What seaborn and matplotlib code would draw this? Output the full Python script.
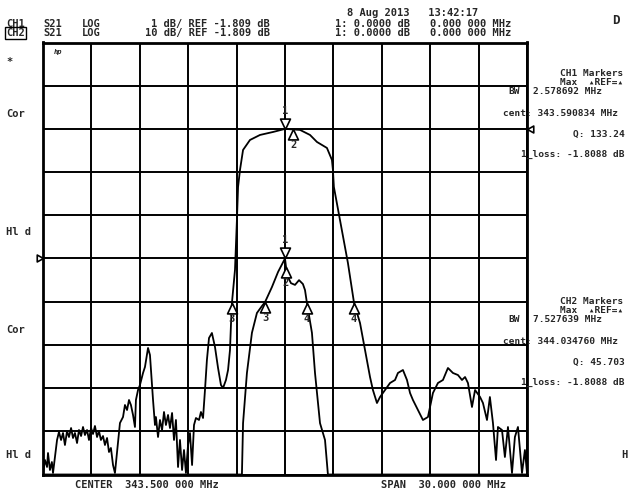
import numpy as np
import pandas as pd
import matplotlib
matplotlib.use("Agg")
import matplotlib.pyplot as plt
from matplotlib.path import Path
import seaborn as sns

# ---------------------------------------------------------------------------
# Sweep settings
center_mhz = 343.5
span_mhz = 30.0
n_div = 10

# CH1: S21, LOG, 1 dB/div, reference -1.809 dB on division 5
ch1_ref_db = -1.809
ch1_scale = 1.0
ch1_ref_div = 5

# CH2: S21, LOG, 10 dB/div, reference -1.809 dB on division 8
ch2_ref_db = -1.809
ch2_scale = 10.0
ch2_ref_div = 8

# CH1 trace (narrow view of the passband top), MHz / dB
ch1_freq = [328.50, 340.83, 340.90, 341.14, 341.45, 341.76, 342.07, 342.26,
            342.69, 343.07, 343.50, 343.62, 343.87, 344.12, 344.37, 344.61,
            344.74, 344.86, 345.17, 345.36, 345.67, 345.98, 346.16, 358.50]
ch1_db = [-6.809, -6.809, -5.62, -4.46, -3.53, -3.07, -2.91, -2.82,
          -2.47, -2.12, -1.809, -2.19, -2.38, -2.42, -2.31, -2.40,
          -2.54, -2.84, -3.53, -4.46, -5.62, -6.01, -6.809, -6.809]

# CH2 trace (full filter response), MHz / dB
ch2_freq = [328.50, 328.62, 328.75, 328.81, 328.93, 329.05, 329.12, 329.24,
            329.37, 329.49, 329.62, 329.74, 329.86, 329.99, 330.11, 330.24,
            330.36, 330.48, 330.61, 330.73, 330.86, 330.98, 331.10, 331.23,
            331.35, 331.48, 331.60, 331.72, 331.85, 331.97, 332.09, 332.22,
            332.34, 332.47, 332.59, 332.71, 332.84, 332.96, 333.15, 333.27,
            333.46, 333.58, 333.71, 333.83, 333.95, 334.08, 334.20, 334.26,
            334.39, 334.51, 334.70, 334.82, 334.94, 335.01, 335.13, 335.32,
            335.44, 335.50, 335.63, 335.75, 335.88, 336.00, 336.12, 336.25,
            336.37, 336.50, 336.62, 336.74, 336.87, 336.99, 337.12, 337.24,
            337.36, 337.49, 337.61, 337.74, 337.86, 337.98, 338.17, 338.29,
            338.42, 338.54, 338.66, 338.79, 338.97, 339.16, 339.35, 339.53,
            339.66, 339.84, 339.97, 340.09, 340.15, 340.21, 340.40, 340.52,
            340.59, 340.71, 340.90, 341.33, 341.95, 342.76, 343.50, 344.43,
            345.05, 345.48, 346.10, 346.41, 346.47, 346.53, 346.91, 347.40,
            347.78, 348.15, 348.46, 348.77, 348.95, 349.20, 349.39, 349.70,
            350.01, 350.32, 350.50, 350.81, 351.06, 351.25, 351.43, 351.74,
            352.05, 352.36, 352.67, 352.98, 353.29, 353.60, 353.91, 354.22,
            354.47, 354.66, 354.84, 355.09, 355.28, 355.59, 355.77, 356.02,
            356.20, 356.39, 356.58, 356.70, 356.95, 357.13, 357.32, 357.57,
            357.75, 357.94, 358.19, 358.37, 358.50]
ch2_db = [-81.46, -78.45, -80.07, -76.83, -80.77, -78.92, -81.46, -77.76,
          -73.82, -71.97, -73.82, -72.20, -74.98, -71.74, -73.13, -71.05,
          -73.36, -72.20, -74.52, -71.51, -72.90, -70.81, -72.67, -71.51,
          -73.82, -71.05, -72.43, -70.58, -73.13, -71.74, -73.82, -72.90,
          -74.98, -73.36, -76.60, -75.67, -79.61, -81.46, -74.52, -69.89,
          -68.50, -65.72, -66.88, -64.56, -65.72, -68.03, -70.81, -64.56,
          -62.25, -61.09, -58.31, -56.92, -54.15, -52.52, -54.15, -64.56,
          -70.35, -68.50, -73.13, -69.19, -71.51, -67.34, -70.35, -68.03,
          -71.05, -67.57, -73.82, -69.19, -80.07, -73.82, -80.77, -76.14,
          -81.46, -74.98, -72.20, -79.61, -70.35, -68.73, -69.19, -67.34,
          -68.73, -62.25, -55.30, -50.21, -49.05, -52.29, -57.15, -61.09,
          -61.79, -59.93, -57.62, -52.99, -47.21, -42.11, -34.45, -22.88,
          -15.25, -11.31, -6.68, -4.37, -3.21, -2.52, -1.809, -2.04,
          -3.21, -4.83, -6.22, -9.00, -11.31, -15.25, -22.88, -32.84,
          -42.11, -46.74, -53.00, -59.24, -62.25, -65.26, -63.87, -62.25,
          -60.63, -59.93, -58.31, -57.62, -59.93, -62.94, -64.56, -66.88,
          -69.19, -68.50, -62.94, -60.63, -59.93, -57.15, -58.31, -58.78,
          -59.93, -59.24, -60.63, -66.18, -62.25, -63.87, -65.26, -69.19,
          -63.87, -69.89, -78.45, -70.81, -71.51, -77.76, -70.81, -81.46,
          -73.13, -70.81, -81.46, -76.14, -81.46]

# Marker stimulus values (1 = max, 2 = reference, 3/4 = bandwidth edges)
ch1_marker_freq = [343.50, 343.56, 342.26, 344.86]
ch2_marker_freq = [343.50, 344.00, 340.21, 347.78]
marker_names = ["1", "2", "3", "4"]

# Annotation text
header_ch1 = ["CH1", "S21", "LOG", "1 dB/ REF -1.809 dB", "1: 0.0000 dB", "0.000 000 MHz"]
header_ch2 = ["CH2", "S21", "LOG", "10 dB/ REF -1.809 dB", "1: 0.0000 dB", "0.000 000 MHz"]
timestamp = "8 Aug 2013   13:42:17"
ch1_readout = ["CH1 Markers", "Max  \u25b4REF=\u25b4", "BW", "2.578692 MHz",
               "cent: 343.590834 MHz", "Q: 133.24", "1_loss: -1.8088 dB"]
ch2_readout = ["CH2 Markers", "Max  \u25b4REF=\u25b4", "BW", "7.527639 MHz",
               "cent: 344.034760 MHz", "Q: 45.703", "1_loss: -1.8088 dB"]
status_left = ["*", "Cor", "Hl d", "Cor", "Hl d"]
footer = ["CENTER  343.500 000 MHz", "SPAN  30.000 000 MHz"]

# ---------------------------------------------------------------------------
sns.set_style("white")
plt.rcParams["font.family"] = ["DejaVu Sans Mono", "DejaVu Sans"]

W, H = 628, 491
fig = plt.figure(figsize=(W / 100, H / 100), dpi=100)
fig.patch.set_facecolor("white")

gx0, gx1, gy0, gy1 = 43, 527, 42.5, 474.5
ax = fig.add_axes([gx0 / W, 1 - gy1 / H, (gx1 - gx0) / W, (gy1 - gy0) / H])

f_lo = center_mhz - span_mhz / 2
f_hi = center_mhz + span_mhz / 2
ch1_lo = ch1_ref_db - ch1_ref_div * ch1_scale
ch1_hi = ch1_lo + n_div * ch1_scale
ch2_lo = ch2_ref_db - ch2_ref_div * ch2_scale
ch2_hi = ch2_lo + n_div * ch2_scale

ax.set_xlim(f_lo, f_hi)
ax.set_ylim(ch1_lo, ch1_hi)
ax.set_xticks(np.linspace(f_lo, f_hi, n_div + 1))
ax.set_yticks(np.linspace(ch1_lo, ch1_hi, n_div + 1))
ax.grid(True, color="black", linewidth=1.4)
ax.tick_params(length=0, labelbottom=False, labelleft=False)
for s in ax.spines.values():
    s.set_color("black")
    s.set_linewidth(2.0)

ax2 = ax.twinx()
ax2.set_ylim(ch2_lo, ch2_hi)
ax2.grid(False)
ax2.tick_params(length=0, labelright=False)
for s in ax2.spines.values():
    s.set_visible(False)

df1 = pd.DataFrame({"freq": ch1_freq, "db": ch1_db})
df2 = pd.DataFrame({"freq": ch2_freq, "db": ch2_db})
sns.lineplot(data=df1, x="freq", y="db", ax=ax, color="black", linewidth=1.3,
             sort=False, estimator=None, clip_on=False, zorder=4)
sns.lineplot(data=df2, x="freq", y="db", ax=ax2, color="black", linewidth=1.3,
             sort=False, estimator=None, zorder=4)
ax.set_xlabel("")
ax.set_ylabel("")
ax2.set_ylabel("")

# Triangle markers with the tip on the trace
tri_above = Path([(0, 0), (-0.5, 1.05), (0.5, 1.05), (0, 0)],
                 [Path.MOVETO, Path.LINETO, Path.LINETO, Path.CLOSEPOLY])
tri_below = Path([(0, 0), (-0.5, -1.05), (0.5, -1.05), (0, 0)],
                 [Path.MOVETO, Path.LINETO, Path.LINETO, Path.CLOSEPOLY])


def draw_markers(axis, freq, db, mfreq):
    mdb = np.interp(mfreq, freq, db)
    for i, (mf, md) in enumerate(zip(mfreq, mdb)):
        if i == 0:
            axis.plot([mf], [md], marker=tri_above, ms=15, mfc="white",
                      mec="black", mew=1.2, zorder=6, clip_on=False)
            axis.annotate(marker_names[i], (mf, md), xytext=(0, 18),
                          textcoords="offset pixels", ha="center", va="center",
                          fontsize=7.5, fontweight="bold", zorder=7)
        else:
            axis.plot([mf], [md], marker=tri_below, ms=15, mfc="white",
                      mec="black", mew=1.2, zorder=6, clip_on=False)
            axis.annotate(marker_names[i], (mf, md), xytext=(0, -16),
                          textcoords="offset pixels", ha="center", va="center",
                          fontsize=7.5, fontweight="bold", zorder=7)


draw_markers(ax, ch1_freq, ch1_db, ch1_marker_freq)
draw_markers(ax2, ch2_freq, ch2_db, ch2_marker_freq)

# Reference-position arrows
ref_left = Path([(0, 0), (-1, 0.55), (-1, -0.55), (0, 0)],
                [Path.MOVETO, Path.LINETO, Path.LINETO, Path.CLOSEPOLY])
ref_right = Path([(0, 0), (1, 0.55), (1, -0.55), (0, 0)],
                 [Path.MOVETO, Path.LINETO, Path.LINETO, Path.CLOSEPOLY])
ax.plot([f_lo], [ch1_ref_db], marker=ref_left, ms=9, mfc="white", mec="black",
        mew=1.2, clip_on=False, zorder=6)
ax2.plot([f_hi], [ch2_ref_db], marker=ref_right, ms=9, mfc="white", mec="black",
         mew=1.2, clip_on=False, zorder=6)


def T(x, y, s, **kw):
    opts = dict(ha="left", va="center", fontsize=7.5, fontweight="bold")
    opts.update(kw)
    return fig.text(x / W, 1 - y / H, s, **opts)


# Header
T(347, 13, timestamp)
for y, row in ((24, header_ch1), (33, header_ch2)):
    T(43, y, row[1])
    T(82, y, row[2])
    T(270, y, row[3], ha="right")
    T(335, y, row[4])
    T(430, y, row[5])
T(6, 24, header_ch1[0])
T(6, 33, header_ch2[0],
  bbox=dict(boxstyle="square,pad=0.12", fc="white", ec="black", lw=1.0))
T(612, 20, "D", fontsize=9)

# hp logo in the upper-left cell
T(54, 52, "hp", fontsize=5, style="italic")

# Left status column
for y, s in zip((62, 114, 232, 330, 455), status_left):
    T(6, y, s)
T(621, 455, "H")

# Marker read-outs on the right
for y0, rd in ((74, ch1_readout), (302, ch2_readout)):
    T(560, y0, rd[0], fontsize=6.8)
    T(560, y0 + 8.5, rd[1], fontsize=6.8)
    T(508, y0 + 17, rd[2], fontsize=6.8)
    T(533, y0 + 17, rd[3], fontsize=6.8)
    T(503, y0 + 39, rd[4], fontsize=6.8)
    T(573, y0 + 60, rd[5], fontsize=6.8)
    T(521, y0 + 80, rd[6], fontsize=6.8)

# Footer
T(75, 485.5, footer[0])
T(381, 485.5, footer[1])

fig.savefig("out.png", dpi=100, facecolor="white")
